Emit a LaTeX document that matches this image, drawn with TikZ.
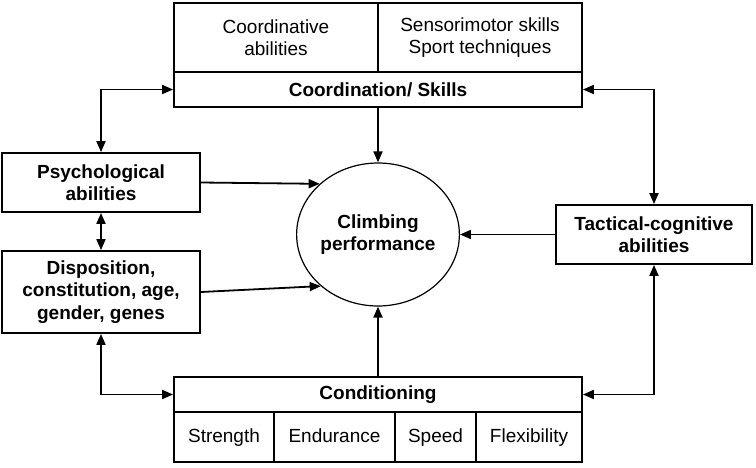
\documentclass[tikz,border=0pt]{standalone}
\usepackage{fontspec}
\setmainfont{Liberation Sans}
\usetikzlibrary{arrows.meta,positioning,shapes.geometric}

\begin{document}
\begin{tikzpicture}[x=1pt,y=-1pt,line width=1.8pt,>={Triangle[length=11pt,width=9pt]},
  box/.style={draw,inner sep=0pt,align=center,font=\fontsize{19}{22.5}\selectfont\bfseries},
  cell/.style={draw,inner sep=0pt,align=center,font=\fontsize{19}{22.5}\selectfont},
  item/.style={cell,minimum height=50pt,text height=14pt,text depth=4pt}]
\useasboundingbox (0,0) rectangle (756,467);

\node[box,minimum width=408pt,minimum height=35pt] (coord) at (378,89.5) {Coordination/ Skills};
\node[cell,minimum width=204pt,minimum height=69pt] (coordab) at (276,37.5) {Coordinative\\abilities};
\node[cell,minimum width=204pt,minimum height=69pt] (sensor) at (480,37.5) {Sensorimotor skills\\Sport techniques};

\node[box,minimum width=198pt,minimum height=59pt] (psych) at (101,182.5) {Psychological\\abilities};
\node[box,minimum width=198pt,minimum height=82pt] (disp) at (101,292) {Disposition,\\constitution, age,\\gender, genes};
\node[box,minimum width=196pt,minimum height=59pt] (tact) at (654,234.5) {Tactical-cognitive\\abilities};
\node[box,ellipse,line width=1.2pt,minimum width=156pt,minimum height=143pt] (perf) at (378,234.5) {Climbing\\performance};

\node[box,minimum width=408pt,minimum height=35pt] (cond) at (378,394.5) {Conditioning};
\node[item,minimum width=100pt] (strength) at (224,437) {Strength};
\node[item,minimum width=121pt] (endur) at (334.5,437) {Endurance};
\node[item,minimum width=81pt] (speed) at (435.5,437) {Speed};
\node[item,minimum width=106pt] (flex) at (529,437) {Flexibility};

\path[->] (coord) edge (perf)
          (cond) edge (perf)
          (tact) edge (perf)
          (psych.east) edge (perf.139)
          (disp.east) edge (perf.222);
\path[<->] (psych) edge (disp);
\draw[<->] (psych.north) |- (coord.west);
\draw[<->] (disp.south) |- (cond.west);
\draw[<->] (tact.north) |- (coord.east);
\draw[<->] (tact.south) |- (cond.east);
\end{tikzpicture}
\end{document}
